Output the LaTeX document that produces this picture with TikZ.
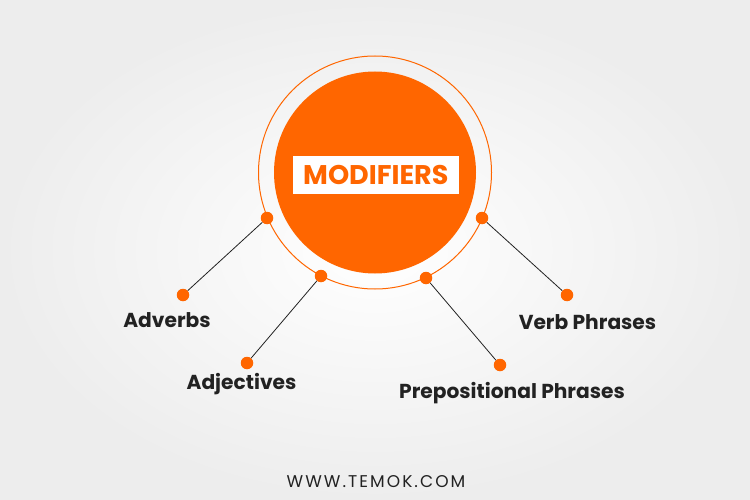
\documentclass[tikz,border=0pt]{standalone}
\usepackage{fontspec}
\setmainfont{Poppins}
\usetikzlibrary{shadings}
\definecolor{orng}{HTML}{FF6600}
\definecolor{txt}{HTML}{222222}
\definecolor{bgout}{HTML}{EDEDED}
\begin{document}
\begin{tikzpicture}[x=1pt,y=-1pt,
  dot/.style={circle,fill=orng,inner sep=0pt,minimum size=12.5pt},
  lbl/.style={font=\fontsize{20.2}{23}\selectfont\bfseries,text=txt,inner sep=0pt,anchor=base},
  link/.style={draw=txt,line width=0.8pt}]
\useasboundingbox (0,0) rectangle (750,500);
\shade[inner color=white,outer color=bgout] (0,0) rectangle (750,500);
% rings
\draw[orng,line width=1pt] (375,172.5) circle (116.5);
\fill[orng] (375,172.5) circle (101);
\node[fill=white,minimum width=166.5pt,minimum height=38pt,inner sep=0pt] (title) at (375.8,175)
  {\color{orng}\fontsize{27}{30}\selectfont\bfseries MODIFIERS};
% ring dots
\node[dot] (r1) at (267,218) {};
\node[dot] (r2) at (321,276) {};
\node[dot] (r3) at (426,278) {};
\node[dot] (r4) at (482,218) {};
% outer dots
\node[dot] (o1) at (183,295) {};
\node[dot] (o2) at (247,363) {};
\node[dot] (o3) at (500,365) {};
\node[dot] (o4) at (567,295) {};
\draw[link] (r1) -- (o1);
\draw[link] (r2) -- (o2);
\draw[link] (r3) -- (o3);
\draw[link] (r4) -- (o4);
% labels
\node[lbl] (l1) at (167,327) {Adverbs};
\node[lbl] (l2) at (241.5,389) {Adjectives};
\node[lbl] (l3) at (512,398) {Prepositional Phrases};
\node[lbl] (l4) at (587.5,329) {Verb Phrases};
\node[font=\fontsize{17}{19}\selectfont\addfontfeatures{LetterSpace=12},text=txt,inner sep=0pt,anchor=base] (web) at (376,487) {WWW.TEMOK.COM};
\end{tikzpicture}
\end{document}
